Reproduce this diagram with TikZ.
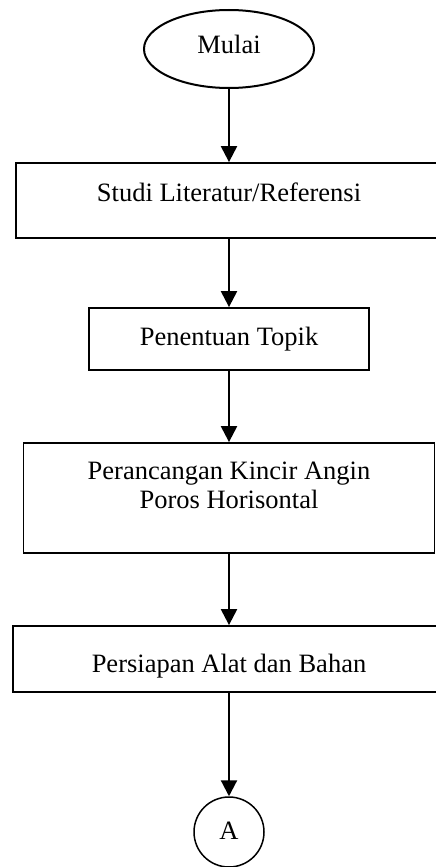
\documentclass[tikz,border=0pt]{standalone}
\usepackage{fontspec}
\setmainfont{Liberation Serif}
\usetikzlibrary{shapes.geometric,arrows.meta}

\begin{document}
\begin{tikzpicture}[x=1pt,y=1pt,
    kotak/.style={draw,line width=1.8pt,inner sep=0pt,
      font=\fontsize{26.5}{29}\selectfont,align=center},
    panah/.style={line width=2.2pt,-{Triangle[length=16pt,width=16pt]}}]
  % --- BINGKAI TETAP ---
  \clip (0,0) rectangle (436,-867);

  % --- SIMPUL ---
  \node[kotak,ellipse,line width=2pt,minimum width=170pt,minimum height=78pt,
    text height=18pt,text depth=8pt] (mulai) at (229,-49) {Mulai};
  \node[kotak,minimum width=426pt,text height=38pt,text depth=37pt]
    (studi) at (229,-200.5) {Studi Literatur/Referensi};
  \node[kotak,minimum width=280pt,text height=37pt,text depth=25pt]
    (topik) at (229,-339) {Penentuan Topik};
  \node[kotak,minimum width=411pt,text height=65pt,text depth=45pt]
    (rancang) at (229,-498) {Perancangan Kincir Angin\\Poros Horisontal};
  \node[kotak,minimum width=432pt,text height=46pt,text depth=20pt]
    (siap) at (229,-659) {Persiapan Alat dan Bahan};
  \node[kotak,circle,line width=1.5pt,minimum size=70pt,
    text height=18pt,text depth=4pt] (a) at (229,-832) {A};

  % --- PANAH ---
  \draw[panah] (mulai) -- (studi);
  \draw[panah] (studi) -- (topik);
  \draw[panah] (topik) -- (rancang);
  \draw[panah] (rancang) -- (siap);
  \draw[panah] (siap) -- (a);
\end{tikzpicture}
\end{document}
